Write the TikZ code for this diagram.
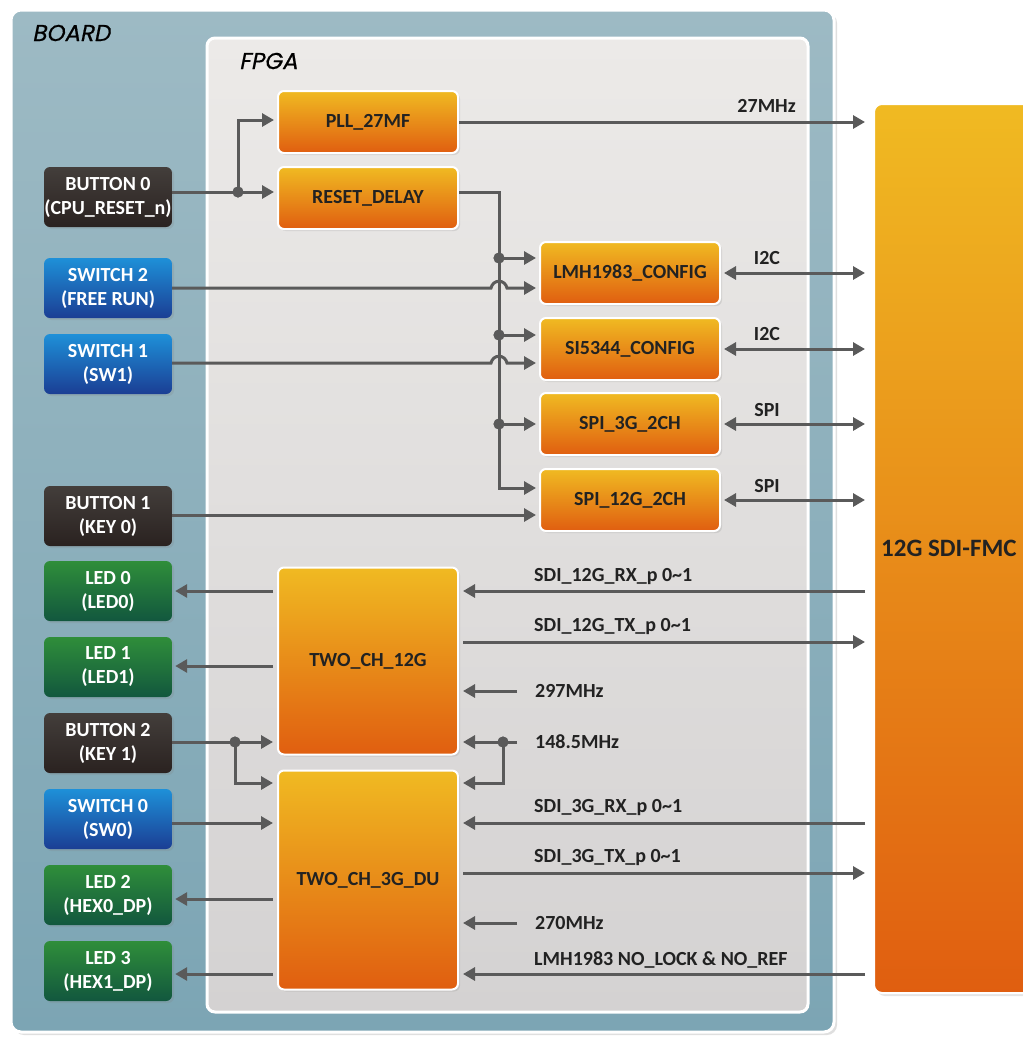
\documentclass[tikz,border=0pt]{standalone}
\usepackage{fontspec}
\setmainfont{Carlito}
\newfontfamily\titlefont[FakeSlant=0.2,FakeBold=0.6]{Poppins}
\usetikzlibrary{arrows.meta,shadows}
\definecolor{wire}{HTML}{5A5A5A}
\definecolor{ortop}{HTML}{F0BA22}
\definecolor{orbot}{HTML}{E05E10}
\definecolor{btntop}{HTML}{433E3B}
\definecolor{btnbot}{HTML}{2A2220}
\definecolor{swtop}{HTML}{1E90D8}
\definecolor{swbot}{HTML}{1B3E94}
\definecolor{ledtop}{HTML}{2F8E3A}
\definecolor{ledbot}{HTML}{12573E}
\definecolor{boardtop}{HTML}{9DBAC4}
\definecolor{boardbot}{HTML}{7CA5B4}
\definecolor{fpgatop}{HTML}{ECEAE8}
\definecolor{fpgabot}{HTML}{D4D2D2}
\definecolor{txtdark}{HTML}{222222}
\tikzset{
  basefont/.style={font=\fontsize{20}{24}\selectfont\bfseries},
  blk/.style={basefont, rounded corners=6pt, draw=white, line width=2pt,
    top color=ortop, bottom color=orbot, text=txtdark,
    minimum width=180pt, minimum height=62pt, inner sep=0pt,
    drop shadow={opacity=0.2, shadow xshift=2pt, shadow yshift=-2pt}},
  io/.style={basefont, rounded corners=6pt, text=white, align=center,
    minimum width=128pt, minimum height=60pt, inner sep=0pt,
    drop shadow={opacity=0.2, shadow xshift=2pt, shadow yshift=-2pt}},
  btn/.style={io, top color=btntop, bottom color=btnbot},
  swb/.style={io, top color=swtop, bottom color=swbot},
  led/.style={io, top color=ledtop, bottom color=ledbot},
  wirel/.style={draw=wire, line width=3pt},
  arr/.style={wirel, -{Triangle[length=12pt,width=13pt]}},
  darr/.style={wirel, {Triangle[length=12pt,width=13pt]}-{Triangle[length=12pt,width=13pt]}},
  dot/.style={circle, fill=wire, minimum size=11pt, inner sep=0pt},
  lbl/.style={basefont, text=txtdark, inner sep=0pt},
  ttl/.style={anchor=west, inner sep=0pt, font=\titlefont\fontsize{23}{26}\selectfont, text=black},
}
\begin{document}
\begin{tikzpicture}[x=1pt,y=-1pt]
\useasboundingbox (0,0) rectangle (1023,1042);
\fill[white] (0,0) rectangle (1023,1042);
% board
\draw[white, line width=3pt, rounded corners=10pt, top color=boardtop, bottom color=boardbot,
  drop shadow={opacity=0.25, shadow xshift=3pt, shadow yshift=-3pt}] (11,10) rectangle (834,1032);
\node[ttl] (boardlbl) at (32,33) {BOARD};
% fpga
\draw[white, line width=3pt, rounded corners=8pt, top color=fpgatop, bottom color=fpgabot] (207,38) rectangle (808,1012);
\node[ttl] (fpgalbl) at (239,61) {FPGA};
% FMC
\draw[white, line width=2pt, rounded corners=8pt, top color=ortop, bottom color=orbot,
  drop shadow={opacity=0.2, shadow xshift=3pt, shadow yshift=-3pt}] (874,104) rectangle (1060,993);
\node[inner sep=0pt, font=\fontsize{25}{28}\selectfont\bfseries, text=txtdark, anchor=west] (fmclbl) at (881,548) {12G SDI-FMC};
\coordinate (fmc) at (874,548);

% FPGA blocks
\node[blk] (pll) at (368,122) {PLL\_27MF};
\node[blk] (rd) at (368,198) {RESET\_DELAY};
\node[blk] (lmh) at (630,273) {LMH1983\_CONFIG};
\node[blk] (si) at (630,349) {SI5344\_CONFIG};
\node[blk] (spi3) at (630,424) {SPI\_3G\_2CH};
\node[blk] (spi12) at (630,500) {SPI\_12G\_2CH};
\node[blk, minimum height=187pt] (tch) at (368,661) {TWO\_CH\_12G};
\node[blk, minimum height=219pt] (tcd) at (368,880) {TWO\_CH\_3G\_DU};

% board IO
\node[btn] (b0) at (108,197) {BUTTON 0\\(CPU\_RESET\_n)};
\node[swb] (s2) at (108,288) {SWITCH 2\\(FREE RUN)};
\node[swb] (s1) at (108,364) {SWITCH 1\\(SW1)};
\node[btn] (b1) at (108,516) {BUTTON 1\\(KEY 0)};
\node[led] (l0) at (108,591) {LED 0\\(LED0)};
\node[led] (l1) at (108,667) {LED 1\\(LED1)};
\node[btn] (b2) at (108,743) {BUTTON 2\\(KEY 1)};
\node[swb] (s0) at (108,819) {SWITCH 0\\(SW0)};
\node[led] (l2) at (108,895) {LED 2\\(HEX0\_DP)};
\node[led] (l3) at (108,971) {LED 3\\(HEX1\_DP)};

% junctions
\node[dot] (j0) at (238,192) {};
\node[dot] (j1) at (499,258) {};
\node[dot] (j2) at (499,335) {};
\node[dot] (j3) at (499,424) {};
\node[dot] (j4) at (235,742) {};
\node[dot] (j5) at (503,742) {};

% button 0 / reset
\draw[arr, shorten >=3pt] (b0.east |- j0) -- (rd.west |- j0);
\draw[arr, shorten >=3pt] (j0.center) |- (pll.west |- 0,120);
\draw[arr, shorten >=3pt] (rd.east |- j0) -| (499,488) -- (spi12.west |- 0,488);
\draw[arr, shorten >=3pt] (j1.center) -- (lmh.west |- j1);
\draw[arr, shorten >=3pt] (j2.center) -- (si.west |- j2);
\draw[arr, shorten >=3pt] (j3.center) -- (spi3.west |- j3);
% switches with hops
\draw[arr, shorten >=3pt] (s2.east |- 0,288) -- (491,288) .. controls (493,279) and (505,279) .. (507,288) -- (lmh.west |- 0,288);
\draw[arr, shorten >=3pt] (s1.east |- 0,363) -- (491,363) .. controls (493,354) and (505,354) .. (507,363) -- (si.west |- 0,363);
\draw[arr, shorten >=3pt] (b1.east |- 0,515) -- (spi12.west |- 0,515);

% right side of config blocks
\draw[arr, shorten >=9pt] (pll.east |- 0,122) -- (fmc |- 0,122);
\node[lbl, anchor=east] (f27) at (796,106) {27MHz};
\draw[darr, shorten <=3pt, shorten >=9pt] (lmh.east) -- (fmc |- lmh.east);
\node[lbl] (i2c1) at (767,258) {I2C};
\draw[darr, shorten <=3pt, shorten >=9pt] (si.east) -- (fmc |- si.east);
\node[lbl] (i2c2) at (767,334) {I2C};
\draw[darr, shorten <=3pt, shorten >=9pt] (spi3.east) -- (fmc |- spi3.east);
\node[lbl] (spil1) at (767,410) {SPI};
\draw[darr, shorten <=3pt, shorten >=9pt] (spi12.east) -- (fmc |- spi12.east);
\node[lbl] (spil2) at (767,486) {SPI};

% LEDs outputs
\draw[arr, shorten <=4pt, shorten >=3pt] (tch.west |- 0,591) -- (l0.east |- 0,591);
\draw[arr, shorten <=4pt, shorten >=3pt] (tch.west |- 0,666) -- (l1.east |- 0,666);
\draw[arr, shorten <=4pt, shorten >=3pt] (tcd.west |- 0,899) -- (l2.east |- 0,899);
\draw[arr, shorten <=4pt, shorten >=3pt] (tcd.west |- 0,974) -- (l3.east |- 0,974);
% button 2 / switch 0
\draw[arr, shorten >=4pt] (b2.east |- j4) -- (tch.west |- j4);
\draw[arr, shorten >=4pt] (j4.center) |- (tcd.west |- 0,783);
\draw[arr, shorten >=4pt] (s0.east |- 0,823) -- (tcd.west |- 0,823);

% right side of transceivers
\draw[arr, shorten <=9pt, shorten >=4pt] (fmc |- 0,591) -- (tch.east |- 0,591);
\node[lbl, anchor=west] (rx12) at (534,577) {SDI\_12G\_RX\_p 0\textasciitilde1};
\draw[arr, shorten <=4pt, shorten >=9pt] (tch.east |- 0,642) -- (fmc |- 0,642);
\node[lbl, anchor=west] (tx12) at (534,627) {SDI\_12G\_TX\_p 0\textasciitilde1};
\coordinate (c297) at (517,691);
\draw[arr, shorten >=4pt] (c297) -- (tch.east |- c297);
\node[lbl, anchor=west] (l297) at (535,691) {297MHz};
\coordinate (c148) at (517,742);
\draw[arr, shorten >=4pt] (c148) -- (tch.east |- c148);
\draw[arr, shorten >=4pt] (j5.center) |- (tcd.east |- 0,783);
\node[lbl, anchor=west] (l148) at (535,742) {148.5MHz};
\draw[arr, shorten <=9pt, shorten >=4pt] (fmc |- 0,823) -- (tcd.east |- 0,823);
\node[lbl, anchor=west] (rx3) at (534,808) {SDI\_3G\_RX\_p 0\textasciitilde1};
\draw[arr, shorten <=4pt, shorten >=9pt] (tcd.east |- 0,873) -- (fmc |- 0,873);
\node[lbl, anchor=west] (tx3) at (534,858) {SDI\_3G\_TX\_p 0\textasciitilde1};
\coordinate (c270) at (517,923);
\draw[arr, shorten >=4pt] (c270) -- (tcd.east |- c270);
\node[lbl, anchor=west] (l270) at (535,923) {270MHz};
\draw[arr, shorten <=9pt, shorten >=4pt] (fmc |- 0,974) -- (tcd.east |- 0,974);
\node[lbl, anchor=west] (lock) at (534,960) {LMH1983 NO\_LOCK \& NO\_REF};
% redraw junction dots on top
\foreach \j in {j0,j1,j2,j3,j4,j5} \fill[wire] (\j) circle[radius=5.5pt];
\end{tikzpicture}
\end{document}
